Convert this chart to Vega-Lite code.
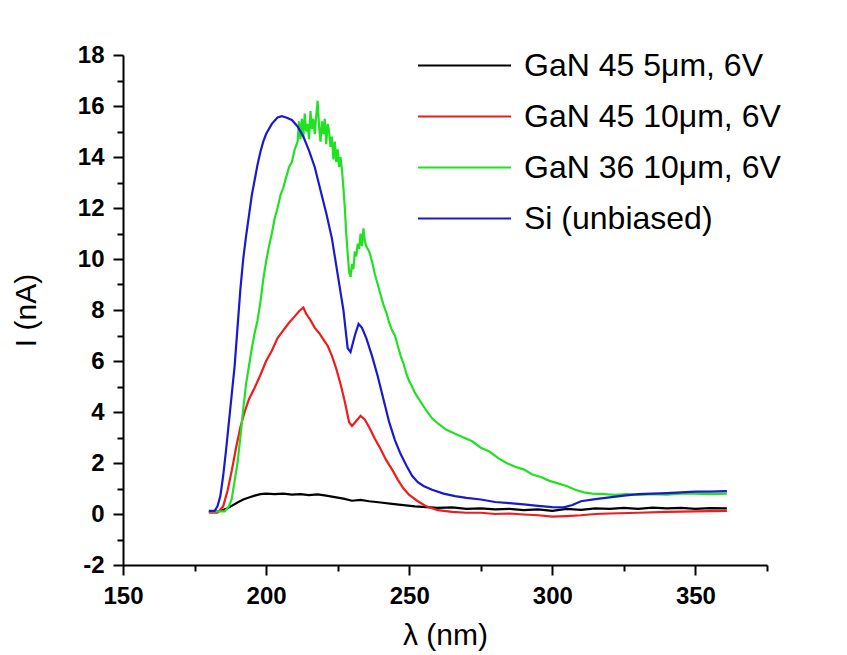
{
"$schema":"https://vega.github.io/schema/vega-lite/v6.json",
"width":644,"height":510,
"autosize":{"type":"none"},
"padding":{"left":123,"top":55,"right":80,"bottom":90},
"background":"white",
"config":{"view":{"stroke":null},"font":"Liberation Sans"},
"data":{"values":[
{"series":"GaN 45 5μm, 6V","nm":180,"nA":0.08},{"series":"GaN 45 5μm, 6V","nm":182,"nA":0.08},{"series":"GaN 45 5μm, 6V","nm":184,"nA":0.12},{"series":"GaN 45 5μm, 6V","nm":186,"nA":0.2},{"series":"GaN 45 5μm, 6V","nm":188,"nA":0.32},{"series":"GaN 45 5μm, 6V","nm":190,"nA":0.45},{"series":"GaN 45 5μm, 6V","nm":192,"nA":0.57},{"series":"GaN 45 5μm, 6V","nm":194,"nA":0.65},{"series":"GaN 45 5μm, 6V","nm":196,"nA":0.72},{"series":"GaN 45 5μm, 6V","nm":198,"nA":0.78},{"series":"GaN 45 5μm, 6V","nm":200,"nA":0.8},{"series":"GaN 45 5μm, 6V","nm":203,"nA":0.78},{"series":"GaN 45 5μm, 6V","nm":206,"nA":0.8},{"series":"GaN 45 5μm, 6V","nm":209,"nA":0.76},{"series":"GaN 45 5μm, 6V","nm":212,"nA":0.78},{"series":"GaN 45 5μm, 6V","nm":215,"nA":0.74},{"series":"GaN 45 5μm, 6V","nm":218,"nA":0.77},{"series":"GaN 45 5μm, 6V","nm":221,"nA":0.72},{"series":"GaN 45 5μm, 6V","nm":224,"nA":0.66},{"series":"GaN 45 5μm, 6V","nm":227,"nA":0.6},{"series":"GaN 45 5μm, 6V","nm":230,"nA":0.52},{"series":"GaN 45 5μm, 6V","nm":233,"nA":0.55},{"series":"GaN 45 5μm, 6V","nm":236,"nA":0.5},{"series":"GaN 45 5μm, 6V","nm":240,"nA":0.45},{"series":"GaN 45 5μm, 6V","nm":244,"nA":0.4},{"series":"GaN 45 5μm, 6V","nm":248,"nA":0.35},{"series":"GaN 45 5μm, 6V","nm":252,"nA":0.3},{"series":"GaN 45 5μm, 6V","nm":256,"nA":0.27},{"series":"GaN 45 5μm, 6V","nm":260,"nA":0.24},{"series":"GaN 45 5μm, 6V","nm":265,"nA":0.26},{"series":"GaN 45 5μm, 6V","nm":270,"nA":0.2},{"series":"GaN 45 5μm, 6V","nm":275,"nA":0.22},{"series":"GaN 45 5μm, 6V","nm":280,"nA":0.18},{"series":"GaN 45 5μm, 6V","nm":285,"nA":0.2},{"series":"GaN 45 5μm, 6V","nm":290,"nA":0.15},{"series":"GaN 45 5μm, 6V","nm":295,"nA":0.18},{"series":"GaN 45 5μm, 6V","nm":300,"nA":0.12},{"series":"GaN 45 5μm, 6V","nm":305,"nA":0.2},{"series":"GaN 45 5μm, 6V","nm":310,"nA":0.16},{"series":"GaN 45 5μm, 6V","nm":315,"nA":0.22},{"series":"GaN 45 5μm, 6V","nm":320,"nA":0.2},{"series":"GaN 45 5μm, 6V","nm":325,"nA":0.24},{"series":"GaN 45 5μm, 6V","nm":330,"nA":0.2},{"series":"GaN 45 5μm, 6V","nm":335,"nA":0.25},{"series":"GaN 45 5μm, 6V","nm":340,"nA":0.22},{"series":"GaN 45 5μm, 6V","nm":345,"nA":0.24},{"series":"GaN 45 5μm, 6V","nm":350,"nA":0.2},{"series":"GaN 45 5μm, 6V","nm":355,"nA":0.23},{"series":"GaN 45 5μm, 6V","nm":361,"nA":0.22},
{"series":"GaN 45 10μm, 6V","nm":180,"nA":0.05},{"series":"GaN 45 10μm, 6V","nm":183,"nA":0.05},{"series":"GaN 45 10μm, 6V","nm":185,"nA":0.3},{"series":"GaN 45 10μm, 6V","nm":186.5,"nA":0.9},{"series":"GaN 45 10μm, 6V","nm":188,"nA":1.7},{"series":"GaN 45 10μm, 6V","nm":189.5,"nA":2.6},{"series":"GaN 45 10μm, 6V","nm":191,"nA":3.4},{"series":"GaN 45 10μm, 6V","nm":192.5,"nA":4.0},{"series":"GaN 45 10μm, 6V","nm":194,"nA":4.5},{"series":"GaN 45 10μm, 6V","nm":196,"nA":4.95},{"series":"GaN 45 10μm, 6V","nm":198,"nA":5.45},{"series":"GaN 45 10μm, 6V","nm":200,"nA":6.0},{"series":"GaN 45 10μm, 6V","nm":202,"nA":6.4},{"series":"GaN 45 10μm, 6V","nm":204,"nA":6.9},{"series":"GaN 45 10μm, 6V","nm":206,"nA":7.2},{"series":"GaN 45 10μm, 6V","nm":208,"nA":7.5},{"series":"GaN 45 10μm, 6V","nm":210,"nA":7.75},{"series":"GaN 45 10μm, 6V","nm":211.5,"nA":7.95},{"series":"GaN 45 10μm, 6V","nm":213,"nA":8.1},{"series":"GaN 45 10μm, 6V","nm":214,"nA":7.85},{"series":"GaN 45 10μm, 6V","nm":215.5,"nA":7.6},{"series":"GaN 45 10μm, 6V","nm":217,"nA":7.3},{"series":"GaN 45 10μm, 6V","nm":218.5,"nA":7.1},{"series":"GaN 45 10μm, 6V","nm":220,"nA":6.85},{"series":"GaN 45 10μm, 6V","nm":221.5,"nA":6.6},{"series":"GaN 45 10μm, 6V","nm":223,"nA":6.2},{"series":"GaN 45 10μm, 6V","nm":224.5,"nA":5.7},{"series":"GaN 45 10μm, 6V","nm":226,"nA":5.1},{"series":"GaN 45 10μm, 6V","nm":227.5,"nA":4.4},{"series":"GaN 45 10μm, 6V","nm":229,"nA":3.6},{"series":"GaN 45 10μm, 6V","nm":230,"nA":3.45},{"series":"GaN 45 10μm, 6V","nm":231.5,"nA":3.65},{"series":"GaN 45 10μm, 6V","nm":233,"nA":3.85},{"series":"GaN 45 10μm, 6V","nm":234.5,"nA":3.7},{"series":"GaN 45 10μm, 6V","nm":236,"nA":3.4},{"series":"GaN 45 10μm, 6V","nm":238,"nA":2.95},{"series":"GaN 45 10μm, 6V","nm":240,"nA":2.55},{"series":"GaN 45 10μm, 6V","nm":242,"nA":2.1},{"series":"GaN 45 10μm, 6V","nm":244,"nA":1.75},{"series":"GaN 45 10μm, 6V","nm":246,"nA":1.35},{"series":"GaN 45 10μm, 6V","nm":248,"nA":1.0},{"series":"GaN 45 10μm, 6V","nm":250,"nA":0.75},{"series":"GaN 45 10μm, 6V","nm":253,"nA":0.5},{"series":"GaN 45 10μm, 6V","nm":256,"nA":0.3},{"series":"GaN 45 10μm, 6V","nm":260,"nA":0.15},{"series":"GaN 45 10μm, 6V","nm":265,"nA":0.08},{"series":"GaN 45 10μm, 6V","nm":270,"nA":0.05},{"series":"GaN 45 10μm, 6V","nm":275,"nA":0.05},{"series":"GaN 45 10μm, 6V","nm":280,"nA":0.0},{"series":"GaN 45 10μm, 6V","nm":285,"nA":0.02},{"series":"GaN 45 10μm, 6V","nm":290,"nA":-0.02},{"series":"GaN 45 10μm, 6V","nm":295,"nA":-0.05},{"series":"GaN 45 10μm, 6V","nm":300,"nA":-0.1},{"series":"GaN 45 10μm, 6V","nm":305,"nA":-0.08},{"series":"GaN 45 10μm, 6V","nm":310,"nA":-0.05},{"series":"GaN 45 10μm, 6V","nm":315,"nA":0.0},{"series":"GaN 45 10μm, 6V","nm":320,"nA":0.02},{"series":"GaN 45 10μm, 6V","nm":330,"nA":0.05},{"series":"GaN 45 10μm, 6V","nm":340,"nA":0.08},{"series":"GaN 45 10μm, 6V","nm":350,"nA":0.1},{"series":"GaN 45 10μm, 6V","nm":361,"nA":0.12},
{"series":"GaN 36 10μm, 6V","nm":180,"nA":0.1},{"series":"GaN 36 10μm, 6V","nm":183,"nA":0.1},{"series":"GaN 36 10μm, 6V","nm":185.5,"nA":0.1},{"series":"GaN 36 10μm, 6V","nm":187,"nA":0.3},{"series":"GaN 36 10μm, 6V","nm":188,"nA":0.6},{"series":"GaN 36 10μm, 6V","nm":189,"nA":1.3},{"series":"GaN 36 10μm, 6V","nm":190,"nA":2.0},{"series":"GaN 36 10μm, 6V","nm":191,"nA":3.0},{"series":"GaN 36 10μm, 6V","nm":192,"nA":4.1},{"series":"GaN 36 10μm, 6V","nm":193,"nA":5.1},{"series":"GaN 36 10μm, 6V","nm":194,"nA":5.8},{"series":"GaN 36 10μm, 6V","nm":195,"nA":6.5},{"series":"GaN 36 10μm, 6V","nm":196,"nA":7.1},{"series":"GaN 36 10μm, 6V","nm":197,"nA":7.6},{"series":"GaN 36 10μm, 6V","nm":198,"nA":8.3},{"series":"GaN 36 10μm, 6V","nm":199,"nA":9.2},{"series":"GaN 36 10μm, 6V","nm":200,"nA":9.9},{"series":"GaN 36 10μm, 6V","nm":201,"nA":10.5},{"series":"GaN 36 10μm, 6V","nm":202,"nA":11.0},{"series":"GaN 36 10μm, 6V","nm":203,"nA":11.6},{"series":"GaN 36 10μm, 6V","nm":204,"nA":12.0},{"series":"GaN 36 10μm, 6V","nm":205,"nA":12.5},{"series":"GaN 36 10μm, 6V","nm":206,"nA":12.8},{"series":"GaN 36 10μm, 6V","nm":207,"nA":13.2},{"series":"GaN 36 10μm, 6V","nm":208,"nA":13.6},{"series":"GaN 36 10μm, 6V","nm":209,"nA":13.8},{"series":"GaN 36 10μm, 6V","nm":210,"nA":14.3},{"series":"GaN 36 10μm, 6V","nm":211,"nA":14.6},{"series":"GaN 36 10μm, 6V","nm":211.5,"nA":15.4},{"series":"GaN 36 10μm, 6V","nm":212,"nA":14.7},{"series":"GaN 36 10μm, 6V","nm":212.5,"nA":15.5},{"series":"GaN 36 10μm, 6V","nm":213,"nA":14.8},{"series":"GaN 36 10μm, 6V","nm":213.5,"nA":15.7},{"series":"GaN 36 10μm, 6V","nm":214,"nA":15.0},{"series":"GaN 36 10μm, 6V","nm":214.5,"nA":15.3},{"series":"GaN 36 10μm, 6V","nm":215,"nA":14.7},{"series":"GaN 36 10μm, 6V","nm":215.5,"nA":15.8},{"series":"GaN 36 10μm, 6V","nm":216,"nA":15.1},{"series":"GaN 36 10μm, 6V","nm":216.5,"nA":15.5},{"series":"GaN 36 10μm, 6V","nm":217,"nA":14.9},{"series":"GaN 36 10μm, 6V","nm":217.5,"nA":15.6},{"series":"GaN 36 10μm, 6V","nm":218,"nA":16.2},{"series":"GaN 36 10μm, 6V","nm":218.5,"nA":15.2},{"series":"GaN 36 10μm, 6V","nm":219,"nA":14.6},{"series":"GaN 36 10μm, 6V","nm":219.5,"nA":15.4},{"series":"GaN 36 10μm, 6V","nm":220,"nA":14.9},{"series":"GaN 36 10μm, 6V","nm":220.5,"nA":15.5},{"series":"GaN 36 10μm, 6V","nm":221,"nA":14.5},{"series":"GaN 36 10μm, 6V","nm":221.5,"nA":15.3},{"series":"GaN 36 10μm, 6V","nm":222,"nA":15.0},{"series":"GaN 36 10μm, 6V","nm":222.5,"nA":14.4},{"series":"GaN 36 10μm, 6V","nm":223,"nA":14.8},{"series":"GaN 36 10μm, 6V","nm":223.5,"nA":13.9},{"series":"GaN 36 10μm, 6V","nm":224,"nA":14.6},{"series":"GaN 36 10μm, 6V","nm":224.5,"nA":13.8},{"series":"GaN 36 10μm, 6V","nm":225,"nA":14.3},{"series":"GaN 36 10μm, 6V","nm":225.5,"nA":13.6},{"series":"GaN 36 10μm, 6V","nm":226,"nA":14.0},{"series":"GaN 36 10μm, 6V","nm":226.5,"nA":13.5},{"series":"GaN 36 10μm, 6V","nm":227,"nA":12.8},{"series":"GaN 36 10μm, 6V","nm":227.5,"nA":12.0},{"series":"GaN 36 10μm, 6V","nm":228,"nA":11.0},{"series":"GaN 36 10μm, 6V","nm":228.5,"nA":10.2},{"series":"GaN 36 10μm, 6V","nm":229,"nA":9.5},{"series":"GaN 36 10μm, 6V","nm":229.5,"nA":9.3},{"series":"GaN 36 10μm, 6V","nm":230,"nA":9.8},{"series":"GaN 36 10μm, 6V","nm":230.5,"nA":9.6},{"series":"GaN 36 10μm, 6V","nm":231,"nA":10.3},{"series":"GaN 36 10μm, 6V","nm":231.5,"nA":10.1},{"series":"GaN 36 10μm, 6V","nm":232,"nA":10.6},{"series":"GaN 36 10μm, 6V","nm":232.5,"nA":10.4},{"series":"GaN 36 10μm, 6V","nm":233,"nA":11.0},{"series":"GaN 36 10μm, 6V","nm":233.5,"nA":10.5},{"series":"GaN 36 10μm, 6V","nm":234,"nA":11.2},{"series":"GaN 36 10μm, 6V","nm":234.5,"nA":10.7},{"series":"GaN 36 10μm, 6V","nm":235,"nA":10.5},{"series":"GaN 36 10μm, 6V","nm":236,"nA":10.3},{"series":"GaN 36 10μm, 6V","nm":237,"nA":9.9},{"series":"GaN 36 10μm, 6V","nm":238,"nA":9.4},{"series":"GaN 36 10μm, 6V","nm":239,"nA":9.0},{"series":"GaN 36 10μm, 6V","nm":240,"nA":8.6},{"series":"GaN 36 10μm, 6V","nm":241,"nA":8.2},{"series":"GaN 36 10μm, 6V","nm":242,"nA":7.9},{"series":"GaN 36 10μm, 6V","nm":243,"nA":7.5},{"series":"GaN 36 10μm, 6V","nm":244,"nA":7.2},{"series":"GaN 36 10μm, 6V","nm":245,"nA":7.0},{"series":"GaN 36 10μm, 6V","nm":246,"nA":6.6},{"series":"GaN 36 10μm, 6V","nm":247,"nA":6.2},{"series":"GaN 36 10μm, 6V","nm":248,"nA":5.9},{"series":"GaN 36 10μm, 6V","nm":249,"nA":5.5},{"series":"GaN 36 10μm, 6V","nm":250,"nA":5.2},{"series":"GaN 36 10μm, 6V","nm":251,"nA":5.0},{"series":"GaN 36 10μm, 6V","nm":252,"nA":4.75},{"series":"GaN 36 10μm, 6V","nm":254,"nA":4.4},{"series":"GaN 36 10μm, 6V","nm":256,"nA":4.05},{"series":"GaN 36 10μm, 6V","nm":258,"nA":3.75},{"series":"GaN 36 10μm, 6V","nm":260,"nA":3.55},{"series":"GaN 36 10μm, 6V","nm":263,"nA":3.3},{"series":"GaN 36 10μm, 6V","nm":266,"nA":3.15},{"series":"GaN 36 10μm, 6V","nm":269,"nA":3.0},{"series":"GaN 36 10μm, 6V","nm":272,"nA":2.85},{"series":"GaN 36 10μm, 6V","nm":275,"nA":2.6},{"series":"GaN 36 10μm, 6V","nm":278,"nA":2.45},{"series":"GaN 36 10μm, 6V","nm":281,"nA":2.2},{"series":"GaN 36 10μm, 6V","nm":284,"nA":2.0},{"series":"GaN 36 10μm, 6V","nm":287,"nA":1.85},{"series":"GaN 36 10μm, 6V","nm":290,"nA":1.75},{"series":"GaN 36 10μm, 6V","nm":293,"nA":1.55},{"series":"GaN 36 10μm, 6V","nm":296,"nA":1.45},{"series":"GaN 36 10μm, 6V","nm":299,"nA":1.3},{"series":"GaN 36 10μm, 6V","nm":302,"nA":1.2},{"series":"GaN 36 10μm, 6V","nm":305,"nA":1.1},{"series":"GaN 36 10μm, 6V","nm":308,"nA":0.95},{"series":"GaN 36 10μm, 6V","nm":311,"nA":0.85},{"series":"GaN 36 10μm, 6V","nm":314,"nA":0.8},{"series":"GaN 36 10μm, 6V","nm":318,"nA":0.78},{"series":"GaN 36 10μm, 6V","nm":322,"nA":0.75},{"series":"GaN 36 10μm, 6V","nm":326,"nA":0.78},{"series":"GaN 36 10μm, 6V","nm":330,"nA":0.75},{"series":"GaN 36 10μm, 6V","nm":335,"nA":0.78},{"series":"GaN 36 10μm, 6V","nm":340,"nA":0.76},{"series":"GaN 36 10μm, 6V","nm":345,"nA":0.8},{"series":"GaN 36 10μm, 6V","nm":350,"nA":0.8},{"series":"GaN 36 10μm, 6V","nm":355,"nA":0.78},{"series":"GaN 36 10μm, 6V","nm":361,"nA":0.8},
{"series":"Si (unbiased)","nm":180,"nA":0.12},{"series":"Si (unbiased)","nm":182,"nA":0.12},{"series":"Si (unbiased)","nm":183,"nA":0.3},{"series":"Si (unbiased)","nm":184,"nA":0.7},{"series":"Si (unbiased)","nm":185,"nA":1.5},{"series":"Si (unbiased)","nm":186,"nA":2.5},{"series":"Si (unbiased)","nm":187,"nA":3.6},{"series":"Si (unbiased)","nm":188,"nA":4.7},{"series":"Si (unbiased)","nm":189,"nA":5.8},{"series":"Si (unbiased)","nm":190,"nA":7.3},{"series":"Si (unbiased)","nm":191,"nA":8.8},{"series":"Si (unbiased)","nm":192,"nA":10.0},{"series":"Si (unbiased)","nm":193,"nA":10.9},{"series":"Si (unbiased)","nm":194,"nA":11.7},{"series":"Si (unbiased)","nm":195,"nA":12.5},{"series":"Si (unbiased)","nm":196,"nA":13.1},{"series":"Si (unbiased)","nm":197,"nA":13.7},{"series":"Si (unbiased)","nm":198,"nA":14.2},{"series":"Si (unbiased)","nm":199,"nA":14.6},{"series":"Si (unbiased)","nm":200,"nA":14.9},{"series":"Si (unbiased)","nm":202,"nA":15.3},{"series":"Si (unbiased)","nm":204,"nA":15.55},{"series":"Si (unbiased)","nm":205.5,"nA":15.6},{"series":"Si (unbiased)","nm":207,"nA":15.55},{"series":"Si (unbiased)","nm":209,"nA":15.45},{"series":"Si (unbiased)","nm":211,"nA":15.2},{"series":"Si (unbiased)","nm":213,"nA":14.8},{"series":"Si (unbiased)","nm":215,"nA":14.25},{"series":"Si (unbiased)","nm":217,"nA":13.6},{"series":"Si (unbiased)","nm":219,"nA":12.7},{"series":"Si (unbiased)","nm":221,"nA":11.8},{"series":"Si (unbiased)","nm":223,"nA":10.8},{"series":"Si (unbiased)","nm":225,"nA":9.4},{"series":"Si (unbiased)","nm":227,"nA":8.0},{"series":"Si (unbiased)","nm":228.5,"nA":6.5},{"series":"Si (unbiased)","nm":229.5,"nA":6.35},{"series":"Si (unbiased)","nm":231,"nA":7.0},{"series":"Si (unbiased)","nm":232.3,"nA":7.45},{"series":"Si (unbiased)","nm":233.5,"nA":7.3},{"series":"Si (unbiased)","nm":235,"nA":6.9},{"series":"Si (unbiased)","nm":237,"nA":6.2},{"series":"Si (unbiased)","nm":239,"nA":5.4},{"series":"Si (unbiased)","nm":241,"nA":4.5},{"series":"Si (unbiased)","nm":243,"nA":3.6},{"series":"Si (unbiased)","nm":245,"nA":2.9},{"series":"Si (unbiased)","nm":247,"nA":2.35},{"series":"Si (unbiased)","nm":249,"nA":1.9},{"series":"Si (unbiased)","nm":251,"nA":1.5},{"series":"Si (unbiased)","nm":253,"nA":1.25},{"series":"Si (unbiased)","nm":255,"nA":1.1},{"series":"Si (unbiased)","nm":258,"nA":0.95},{"series":"Si (unbiased)","nm":262,"nA":0.8},{"series":"Si (unbiased)","nm":266,"nA":0.7},{"series":"Si (unbiased)","nm":270,"nA":0.63},{"series":"Si (unbiased)","nm":275,"nA":0.57},{"series":"Si (unbiased)","nm":280,"nA":0.47},{"series":"Si (unbiased)","nm":285,"nA":0.43},{"series":"Si (unbiased)","nm":290,"nA":0.38},{"series":"Si (unbiased)","nm":295,"nA":0.32},{"series":"Si (unbiased)","nm":300,"nA":0.27},{"series":"Si (unbiased)","nm":304,"nA":0.26},{"series":"Si (unbiased)","nm":307,"nA":0.35},{"series":"Si (unbiased)","nm":310,"nA":0.5},{"series":"Si (unbiased)","nm":315,"nA":0.58},{"series":"Si (unbiased)","nm":320,"nA":0.65},{"series":"Si (unbiased)","nm":325,"nA":0.72},{"series":"Si (unbiased)","nm":330,"nA":0.78},{"series":"Si (unbiased)","nm":335,"nA":0.8},{"series":"Si (unbiased)","nm":340,"nA":0.82},{"series":"Si (unbiased)","nm":345,"nA":0.85},{"series":"Si (unbiased)","nm":350,"nA":0.88},{"series":"Si (unbiased)","nm":355,"nA":0.88},{"series":"Si (unbiased)","nm":361,"nA":0.9}
]},
"mark":{"type":"line","strokeWidth":2.2},
"encoding":{
"x":{"field":"nm","type":"quantitative","scale":{"domain":[150,375],"nice":false,"zero":false},
"axis":{"title":"λ (nm)","values":[150,175,200,225,250,275,300,325,350,375],
"labelExpr":"datum.value % 50 === 0 ? toString(datum.value) : ''",
"tickSize":{"condition":{"test":"datum.value % 50 === 0","value":10},"value":6},
"grid":false,"domainColor":"black","domainWidth":2,"tickColor":"black","tickWidth":2,
"labelFont":"Liberation Sans","labelFontWeight":"bold","labelFontSize":24,"labelColor":"black","labelPadding":9,"labelFlush":false,"labelOverlap":false,
"titleFont":"Liberation Sans","titleFontWeight":"normal","titleFontSize":30,"titleColor":"black","titlePadding":12}},
"y":{"field":"nA","type":"quantitative","scale":{"domain":[-2,18],"nice":false,"zero":false},
"axis":{"title":"I (nA)","values":[-2,-1,0,1,2,3,4,5,6,7,8,9,10,11,12,13,14,15,16,17,18],
"labelExpr":"datum.value % 2 === 0 ? toString(datum.value) : ''",
"tickSize":{"condition":{"test":"datum.value % 2 === 0","value":10},"value":6},
"grid":false,"domainColor":"black","domainWidth":2,"tickColor":"black","tickWidth":2,
"labelFont":"Liberation Sans","labelFontWeight":"bold","labelFontSize":24,"labelColor":"black","labelPadding":9,"labelFlush":false,"labelOverlap":false,
"titleFont":"Liberation Sans","titleFontWeight":"normal","titleFontSize":30,"titleColor":"black","titlePadding":36}},
"color":{"field":"series","type":"nominal",
"scale":{"domain":["GaN 45 5μm, 6V","GaN 45 10μm, 6V","GaN 36 10μm, 6V","Si (unbiased)"],"range":["#000000","#ee1c1c","#22e022","#1a1acd"]},
"legend":{"title":null,"orient":"none","legendX":317,"legendY":-14,"padding":0,
"symbolType":"M-2,0H2","symbolSize":2162,"symbolStrokeWidth":2,"symbolFillColor":"transparent",
"labelFont":"Liberation Sans","labelFontSize":32,"labelColor":"black","labelOffset":35,"labelLimit":400,"rowPadding":10}}
}
}
